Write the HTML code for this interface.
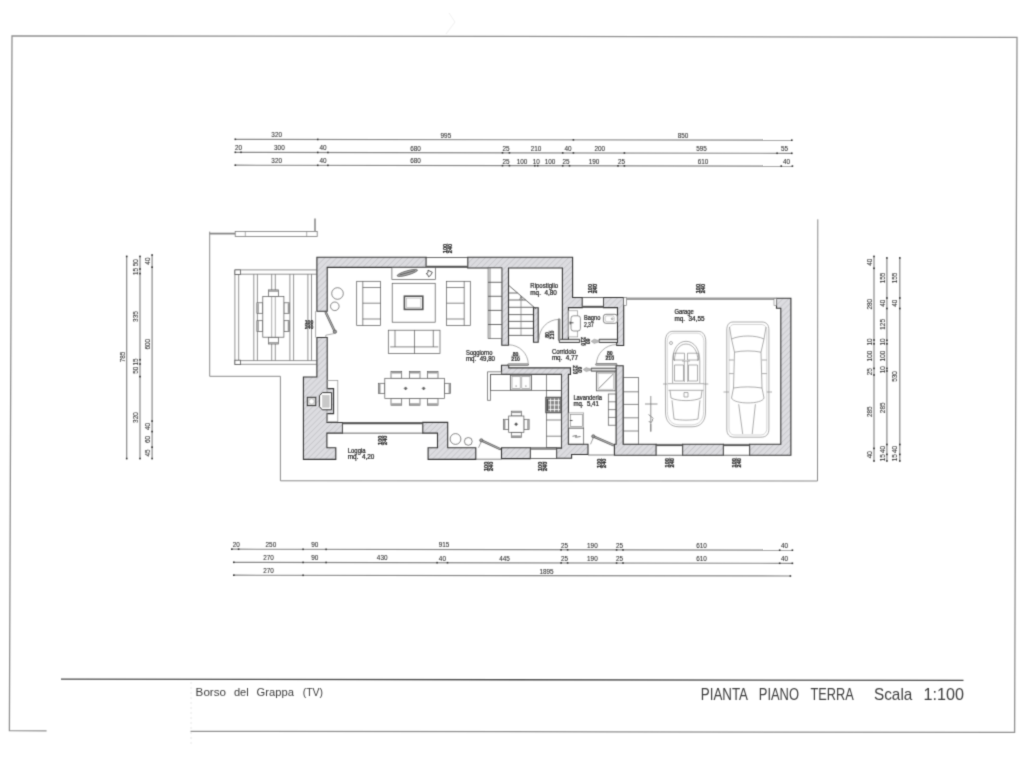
<!DOCTYPE html>
<html><head><meta charset="utf-8"><title>Pianta Piano Terra</title>
<style>
html,body{margin:0;padding:0;background:#fff;}
body{width:1024px;height:768px;overflow:hidden;font-family:"Liberation Sans",sans-serif;}
svg{display:block;will-change:transform;}
.dl{stroke:#888;stroke-width:1.2;fill:none;}
.tk{fill:#333;}
.dt{font-family:"Liberation Sans",sans-serif;font-size:6.4px;fill:#303030;stroke:#303030;stroke-width:0.08px;text-anchor:middle;}
.rl{font-family:"Liberation Sans",sans-serif;font-size:6.4px;fill:#222;stroke:#222;stroke-width:0.22px;}
.ln{stroke:#666;stroke-width:0.8;fill:none;}
.lt{stroke:#888;stroke-width:0.7;fill:none;}
.wall{fill:url(#hatch);stroke:#333;stroke-width:1.1;stroke-linejoin:miter;}
.win{fill:#fff;stroke:#444;stroke-width:0.8;}
.fur{fill:#fff;stroke:#555;stroke-width:0.7;}
.furn{fill:none;stroke:#555;stroke-width:0.7;}
</style></head><body>
<svg width="1024" height="768" viewBox="0 0 1024 768">
<defs>
<filter id="soft" filterUnits="userSpaceOnUse" x="0" y="0" width="1024" height="768" color-interpolation-filters="sRGB"><feConvolveMatrix order="3" kernelMatrix="9 42 9 42 196 42 9 42 9" divisor="400" edgeMode="duplicate"/></filter>
<pattern id="hatch" patternUnits="userSpaceOnUse" width="4.2" height="4.2" patternTransform="rotate(45)">
<rect width="4.2" height="4.2" fill="#dcdce0"/>
<line x1="0" y1="0" x2="0" y2="4.2" stroke="#c6c6ca" stroke-width="1.6"/>
</pattern>
</defs>
<g filter="url(#soft)">
<rect width="1024" height="768" fill="#fff"/>

<polyline points="46.6,730.9 9.4,730.7 12,36.0 516,36.4 1017,37.3 1014.6,732.4 606,731.8 190.5,731.3" fill="none" stroke="#8f8f8f" stroke-width="1.3"/>
<line x1="191" y1="682" x2="191" y2="746" stroke="#e2e2e2" stroke-width="0.8" stroke-dasharray="2,3"/>
<path d="M449,13 L455,22 L446,34" fill="none" stroke="#ececec" stroke-width="0.8"/>
<line x1="61" y1="679.1" x2="963.5" y2="680.4" stroke="#4a4a4a" stroke-width="1.3"/>
<text x="195.6" y="695.5" font-size="11.3" fill="#3c3c3c" textLength="30.5" lengthAdjust="spacingAndGlyphs" style="font-family:'Liberation Sans',sans-serif">Borso</text>
<text x="233.9" y="695.5" font-size="11.3" fill="#3c3c3c" textLength="14.85" lengthAdjust="spacingAndGlyphs" style="font-family:'Liberation Sans',sans-serif">del</text>
<text x="256.6" y="695.5" font-size="11.3" fill="#3c3c3c" textLength="37.4" lengthAdjust="spacingAndGlyphs" style="font-family:'Liberation Sans',sans-serif">Grappa</text>
<text x="302.7" y="695.5" font-size="11.3" fill="#3c3c3c" textLength="20.3" lengthAdjust="spacingAndGlyphs" style="font-family:'Liberation Sans',sans-serif">(TV)</text>
<text x="700.8" y="699.6" font-size="15.7" fill="#3c3c3c" textLength="47.2" lengthAdjust="spacingAndGlyphs" style="font-family:'Liberation Sans',sans-serif">PIANTA</text>
<text x="758.8" y="699.6" font-size="15.7" fill="#3c3c3c" textLength="40.2" lengthAdjust="spacingAndGlyphs" style="font-family:'Liberation Sans',sans-serif">PIANO</text>
<text x="810.4" y="699.6" font-size="15.7" fill="#3c3c3c" textLength="43.3" lengthAdjust="spacingAndGlyphs" style="font-family:'Liberation Sans',sans-serif">TERRA</text>
<text x="874" y="699.6" font-size="15.7" fill="#3c3c3c" textLength="38.3" lengthAdjust="spacingAndGlyphs" style="font-family:'Liberation Sans',sans-serif">Scala</text>
<text x="923.6" y="699.6" font-size="15.7" fill="#3c3c3c" textLength="40.5" lengthAdjust="spacingAndGlyphs" style="font-family:'Liberation Sans',sans-serif">1:100</text>
<line x1="235.3" y1="139.3" x2="791.8" y2="140.2" class="dl"/>
<rect x="234.5" y="138.5" width="1.6" height="1.6" class="tk"/>
<rect x="316.95" y="138.63" width="1.6" height="1.6" class="tk"/>
<rect x="572.6" y="139.05" width="1.6" height="1.6" class="tk"/>
<rect x="791" y="139.4" width="1.6" height="1.6" class="tk"/>
<text x="276.7" y="137.27" class="dt">320</text>
<text x="445.9" y="137.54" class="dt">995</text>
<text x="683" y="137.92" class="dt">850</text>
<line x1="235.3" y1="152.3" x2="791.8" y2="153.3" class="dl"/>
<rect x="234.5" y="151.5" width="1.6" height="1.6" class="tk"/>
<rect x="240.2" y="151.51" width="1.6" height="1.6" class="tk"/>
<rect x="316.95" y="151.65" width="1.6" height="1.6" class="tk"/>
<rect x="327.1" y="151.67" width="1.6" height="1.6" class="tk"/>
<rect x="501.7" y="151.98" width="1.6" height="1.6" class="tk"/>
<rect x="508.6" y="151.99" width="1.6" height="1.6" class="tk"/>
<rect x="561.9" y="152.09" width="1.6" height="1.6" class="tk"/>
<rect x="572.6" y="152.11" width="1.6" height="1.6" class="tk"/>
<rect x="623.6" y="152.2" width="1.6" height="1.6" class="tk"/>
<rect x="776.3" y="152.47" width="1.6" height="1.6" class="tk"/>
<rect x="791" y="152.5" width="1.6" height="1.6" class="tk"/>
<text x="238.5" y="150.21" class="dt">20</text>
<text x="279.4" y="150.28" class="dt">300</text>
<text x="323" y="150.36" class="dt">40</text>
<text x="415.6" y="150.52" class="dt">680</text>
<text x="506" y="150.69" class="dt">25</text>
<text x="536" y="150.74" class="dt">210</text>
<text x="568" y="150.8" class="dt">40</text>
<text x="599.8" y="150.85" class="dt">200</text>
<text x="701.6" y="151.04" class="dt">595</text>
<text x="784.6" y="151.19" class="dt">55</text>
<line x1="235.3" y1="165.2" x2="792.4" y2="166.1" class="dl"/>
<rect x="234.5" y="164.4" width="1.6" height="1.6" class="tk"/>
<rect x="316.95" y="164.53" width="1.6" height="1.6" class="tk"/>
<rect x="327.1" y="164.55" width="1.6" height="1.6" class="tk"/>
<rect x="501.7" y="164.83" width="1.6" height="1.6" class="tk"/>
<rect x="508.6" y="164.84" width="1.6" height="1.6" class="tk"/>
<rect x="534" y="164.88" width="1.6" height="1.6" class="tk"/>
<rect x="536.9" y="164.89" width="1.6" height="1.6" class="tk"/>
<rect x="561.9" y="164.93" width="1.6" height="1.6" class="tk"/>
<rect x="568.7" y="164.94" width="1.6" height="1.6" class="tk"/>
<rect x="617.2" y="165.02" width="1.6" height="1.6" class="tk"/>
<rect x="623.6" y="165.03" width="1.6" height="1.6" class="tk"/>
<rect x="780.45" y="165.28" width="1.6" height="1.6" class="tk"/>
<rect x="791.6" y="165.3" width="1.6" height="1.6" class="tk"/>
<text x="276.7" y="163.17" class="dt">320</text>
<text x="323" y="163.24" class="dt">40</text>
<text x="415.6" y="163.39" class="dt">680</text>
<text x="506" y="163.54" class="dt">25</text>
<text x="522" y="163.56" class="dt">100</text>
<text x="536.2" y="163.59" class="dt">10</text>
<text x="550" y="163.61" class="dt">100</text>
<text x="566" y="163.63" class="dt">25</text>
<text x="594" y="163.68" class="dt">190</text>
<text x="621.5" y="163.72" class="dt">25</text>
<text x="703" y="163.86" class="dt">610</text>
<text x="786.5" y="163.99" class="dt">40</text>
<line x1="231.8" y1="549.2" x2="792.4" y2="550.2" class="dl"/>
<rect x="231" y="548.4" width="1.6" height="1.6" class="tk"/>
<rect x="237.8" y="548.41" width="1.6" height="1.6" class="tk"/>
<rect x="302.3" y="548.53" width="1.6" height="1.6" class="tk"/>
<rect x="325.3" y="548.57" width="1.6" height="1.6" class="tk"/>
<rect x="560.3" y="548.99" width="1.6" height="1.6" class="tk"/>
<rect x="566.8" y="549" width="1.6" height="1.6" class="tk"/>
<rect x="615.8" y="549.09" width="1.6" height="1.6" class="tk"/>
<rect x="622.2" y="549.1" width="1.6" height="1.6" class="tk"/>
<rect x="778.9" y="549.38" width="1.6" height="1.6" class="tk"/>
<rect x="791.6" y="549.4" width="1.6" height="1.6" class="tk"/>
<text x="236.2" y="547.11" class="dt">20</text>
<text x="270.9" y="547.17" class="dt">250</text>
<text x="314.8" y="547.25" class="dt">90</text>
<text x="444" y="547.48" class="dt">915</text>
<text x="564.6" y="547.69" class="dt">25</text>
<text x="592.4" y="547.74" class="dt">190</text>
<text x="619.5" y="547.79" class="dt">25</text>
<text x="701.6" y="547.94" class="dt">610</text>
<text x="784.6" y="548.09" class="dt">40</text>
<line x1="233.8" y1="562.3" x2="792.4" y2="563.3" class="dl"/>
<rect x="233" y="561.5" width="1.6" height="1.6" class="tk"/>
<rect x="302.3" y="561.62" width="1.6" height="1.6" class="tk"/>
<rect x="325.3" y="561.67" width="1.6" height="1.6" class="tk"/>
<rect x="436.3" y="561.86" width="1.6" height="1.6" class="tk"/>
<rect x="446.7" y="561.88" width="1.6" height="1.6" class="tk"/>
<rect x="560.3" y="562.09" width="1.6" height="1.6" class="tk"/>
<rect x="566.8" y="562.1" width="1.6" height="1.6" class="tk"/>
<rect x="615.8" y="562.19" width="1.6" height="1.6" class="tk"/>
<rect x="622.2" y="562.2" width="1.6" height="1.6" class="tk"/>
<rect x="778.9" y="562.48" width="1.6" height="1.6" class="tk"/>
<rect x="791.6" y="562.5" width="1.6" height="1.6" class="tk"/>
<text x="268.5" y="560.26" class="dt">270</text>
<text x="314.8" y="560.35" class="dt">90</text>
<text x="382.2" y="560.47" class="dt">430</text>
<text x="442.4" y="560.57" class="dt">40</text>
<text x="504.5" y="560.68" class="dt">445</text>
<text x="564.6" y="560.79" class="dt">25</text>
<text x="592.4" y="560.84" class="dt">190</text>
<text x="619.5" y="560.89" class="dt">25</text>
<text x="701.6" y="561.04" class="dt">610</text>
<text x="784.6" y="561.19" class="dt">40</text>
<line x1="233.8" y1="575.2" x2="790.4" y2="576" class="dl"/>
<rect x="233" y="574.4" width="1.6" height="1.6" class="tk"/>
<rect x="302.3" y="574.5" width="1.6" height="1.6" class="tk"/>
<rect x="789.6" y="575.2" width="1.6" height="1.6" class="tk"/>
<text x="268.5" y="573.15" class="dt">270</text>
<text x="546.5" y="573.55" class="dt">1895</text>
<line x1="126.7" y1="256.4" x2="126.7" y2="458.6" class="dl"/>
<rect x="125.9" y="255.6" width="1.6" height="1.6" class="tk"/>
<rect x="125.9" y="457.8" width="1.6" height="1.6" class="tk"/>
<text transform="translate(124.6,357) rotate(-90)" x="0" y="0" class="dt">785</text>
<line x1="140" y1="256.4" x2="140" y2="458.6" class="dl"/>
<rect x="139.2" y="255.6" width="1.6" height="1.6" class="tk"/>
<rect x="139.2" y="268.2" width="1.6" height="1.6" class="tk"/>
<rect x="139.2" y="272.8" width="1.6" height="1.6" class="tk"/>
<rect x="139.2" y="358.9" width="1.6" height="1.6" class="tk"/>
<rect x="139.2" y="363.2" width="1.6" height="1.6" class="tk"/>
<rect x="139.2" y="375.8" width="1.6" height="1.6" class="tk"/>
<rect x="139.2" y="457.8" width="1.6" height="1.6" class="tk"/>
<text transform="translate(137.9,262.7) rotate(-90)" x="0" y="0" class="dt">50</text>
<text transform="translate(137.9,271.5) rotate(-90)" x="0" y="0" class="dt">15</text>
<text transform="translate(137.9,316.6) rotate(-90)" x="0" y="0" class="dt">335</text>
<text transform="translate(137.9,361.9) rotate(-90)" x="0" y="0" class="dt">15</text>
<text transform="translate(137.9,370.3) rotate(-90)" x="0" y="0" class="dt">50</text>
<text transform="translate(137.9,417.6) rotate(-90)" x="0" y="0" class="dt">320</text>
<line x1="152.1" y1="255" x2="152.1" y2="458.6" class="dl"/>
<rect x="151.3" y="254.2" width="1.6" height="1.6" class="tk"/>
<rect x="151.3" y="266.4" width="1.6" height="1.6" class="tk"/>
<rect x="151.3" y="420.3" width="1.6" height="1.6" class="tk"/>
<rect x="151.3" y="430.8" width="1.6" height="1.6" class="tk"/>
<rect x="151.3" y="446.4" width="1.6" height="1.6" class="tk"/>
<rect x="151.3" y="457.8" width="1.6" height="1.6" class="tk"/>
<text transform="translate(150,261.1) rotate(-90)" x="0" y="0" class="dt">40</text>
<text transform="translate(150,344.2) rotate(-90)" x="0" y="0" class="dt">600</text>
<text transform="translate(150,426.4) rotate(-90)" x="0" y="0" class="dt">40</text>
<text transform="translate(150,439.4) rotate(-90)" x="0" y="0" class="dt">60</text>
<text transform="translate(150,452.9) rotate(-90)" x="0" y="0" class="dt">45</text>
<line x1="874" y1="256.4" x2="874" y2="461" class="dl"/>
<rect x="873.2" y="255.6" width="1.6" height="1.6" class="tk"/>
<rect x="873.2" y="267.5" width="1.6" height="1.6" class="tk"/>
<rect x="873.2" y="339.2" width="1.6" height="1.6" class="tk"/>
<rect x="873.2" y="343" width="1.6" height="1.6" class="tk"/>
<rect x="873.2" y="367.6" width="1.6" height="1.6" class="tk"/>
<rect x="873.2" y="374.2" width="1.6" height="1.6" class="tk"/>
<rect x="873.2" y="447.6" width="1.6" height="1.6" class="tk"/>
<rect x="873.2" y="460.2" width="1.6" height="1.6" class="tk"/>
<text transform="translate(871.9,262.3) rotate(-90)" x="0" y="0" class="dt">40</text>
<text transform="translate(871.9,304.2) rotate(-90)" x="0" y="0" class="dt">280</text>
<text transform="translate(871.9,341.9) rotate(-90)" x="0" y="0" class="dt">10</text>
<text transform="translate(871.9,356.1) rotate(-90)" x="0" y="0" class="dt">100</text>
<text transform="translate(871.9,371.7) rotate(-90)" x="0" y="0" class="dt">25</text>
<text transform="translate(871.9,411.7) rotate(-90)" x="0" y="0" class="dt">285</text>
<text transform="translate(871.9,454.7) rotate(-90)" x="0" y="0" class="dt">40</text>
<line x1="886.9" y1="257.9" x2="886.9" y2="461" class="dl"/>
<rect x="886.1" y="257.1" width="1.6" height="1.6" class="tk"/>
<rect x="886.1" y="297.2" width="1.6" height="1.6" class="tk"/>
<rect x="886.1" y="307.7" width="1.6" height="1.6" class="tk"/>
<rect x="886.1" y="339.5" width="1.6" height="1.6" class="tk"/>
<rect x="886.1" y="343" width="1.6" height="1.6" class="tk"/>
<rect x="886.1" y="367.6" width="1.6" height="1.6" class="tk"/>
<rect x="886.1" y="370.2" width="1.6" height="1.6" class="tk"/>
<rect x="886.1" y="443.7" width="1.6" height="1.6" class="tk"/>
<rect x="886.1" y="453.6" width="1.6" height="1.6" class="tk"/>
<rect x="886.1" y="460.2" width="1.6" height="1.6" class="tk"/>
<text transform="translate(884.8,278) rotate(-90)" x="0" y="0" class="dt">155</text>
<text transform="translate(884.8,303.2) rotate(-90)" x="0" y="0" class="dt">40</text>
<text transform="translate(884.8,324.4) rotate(-90)" x="0" y="0" class="dt">125</text>
<text transform="translate(884.8,342) rotate(-90)" x="0" y="0" class="dt">10</text>
<text transform="translate(884.8,356.1) rotate(-90)" x="0" y="0" class="dt">100</text>
<text transform="translate(884.8,369.7) rotate(-90)" x="0" y="0" class="dt">10</text>
<text transform="translate(884.8,407.8) rotate(-90)" x="0" y="0" class="dt">285</text>
<text transform="translate(884.8,449.5) rotate(-90)" x="0" y="0" class="dt">40</text>
<text transform="translate(884.8,457.7) rotate(-90)" x="0" y="0" class="dt">15</text>
<line x1="899.8" y1="257.9" x2="899.8" y2="461" class="dl"/>
<rect x="899" y="257.1" width="1.6" height="1.6" class="tk"/>
<rect x="899" y="297.2" width="1.6" height="1.6" class="tk"/>
<rect x="899" y="307.7" width="1.6" height="1.6" class="tk"/>
<rect x="899" y="443.7" width="1.6" height="1.6" class="tk"/>
<rect x="899" y="453.6" width="1.6" height="1.6" class="tk"/>
<rect x="899" y="460.2" width="1.6" height="1.6" class="tk"/>
<text transform="translate(897.4,278) rotate(-90)" x="0" y="0" class="dt">155</text>
<text transform="translate(897.4,303.2) rotate(-90)" x="0" y="0" class="dt">40</text>
<text transform="translate(897.4,376.5) rotate(-90)" x="0" y="0" class="dt">530</text>
<text transform="translate(897.4,449.5) rotate(-90)" x="0" y="0" class="dt">40</text>
<text transform="translate(897.4,457.7) rotate(-90)" x="0" y="0" class="dt">15</text>
<style>.ws{font-family:"Liberation Sans",sans-serif;font-size:5.2px;fill:#222;stroke:#222;stroke-width:0.15px;text-anchor:middle;font-weight:bold}.ws2{font-family:"Liberation Sans",sans-serif;font-size:5.6px;fill:#222;stroke:#222;stroke-width:0.2px;text-anchor:middle;font-weight:bold}</style>
<polyline points="209.7,231.6 209.7,376.3 280.4,376.3 280.4,480.8 817.5,481 817.8,219.3" class="lt" style="stroke:#8a8a8a;stroke-width:1" />
<line x1="209.7" y1="233.6" x2="235.2" y2="233.6" class="ln" style="stroke:#888;stroke-width:1.8" />
<rect x="235.2" y="231.4" width="82" height="5.2" class="fur" style="stroke:#777;stroke-width:0.8" />
<line x1="245.3" y1="231.4" x2="245.3" y2="236.6" class="lt" />
<line x1="306.7" y1="231.4" x2="306.7" y2="236.6" class="lt" />
<line x1="315" y1="218.6" x2="315" y2="231.4" class="ln" style="stroke:#999;stroke-width:1.8" />
<line x1="234.9" y1="269.9" x2="316.5" y2="269.9" class="lt" style="stroke:#777;stroke-width:0.8" />
<line x1="234.9" y1="274.2" x2="316.5" y2="274.2" class="lt" style="stroke:#777;stroke-width:0.8" />
<line x1="234.9" y1="360.6" x2="316.5" y2="360.6" class="lt" style="stroke:#777;stroke-width:0.8" />
<line x1="234.9" y1="364.3" x2="316.5" y2="364.3" class="lt" style="stroke:#777;stroke-width:0.8" />
<line x1="234.9" y1="269.9" x2="234.9" y2="364.3" class="lt" style="stroke:#777;stroke-width:0.8" />
<line x1="238.7" y1="269.9" x2="238.7" y2="364.3" class="lt" style="stroke:#777;stroke-width:0.8" />
<line x1="253.8" y1="274.2" x2="253.8" y2="360.6" class="lt" style="stroke:#777;stroke-width:0.8" />
<line x1="257.4" y1="274.2" x2="257.4" y2="360.6" class="lt" style="stroke:#777;stroke-width:0.8" />
<line x1="271.7" y1="274.2" x2="271.7" y2="360.6" class="lt" style="stroke:#777;stroke-width:0.8" />
<line x1="275.3" y1="274.2" x2="275.3" y2="360.6" class="lt" style="stroke:#777;stroke-width:0.8" />
<line x1="289.9" y1="274.2" x2="289.9" y2="360.6" class="lt" style="stroke:#777;stroke-width:0.8" />
<line x1="293.6" y1="274.2" x2="293.6" y2="360.6" class="lt" style="stroke:#777;stroke-width:0.8" />
<line x1="307.9" y1="274.2" x2="307.9" y2="360.6" class="lt" style="stroke:#777;stroke-width:0.8" />
<line x1="311.5" y1="274.2" x2="311.5" y2="360.6" class="lt" style="stroke:#777;stroke-width:0.8" />
<rect x="234.9" y="269.9" width="5.5" height="4.5" class="fur" style="stroke:#555;stroke-width:0.8" />
<rect x="234.9" y="360.2" width="5.5" height="4.4" class="fur" style="stroke:#555;stroke-width:0.8" />
<rect x="268.5" y="289.9" width="10.1" height="6.5" class="fur" style="fill:#fff" />
<line x1="268.9" y1="291" x2="278.2" y2="291" class="furn" style="stroke:#999;stroke-width:1.6" />
<rect x="268.5" y="337.2" width="10.1" height="6.8" class="fur" style="fill:#fff" />
<line x1="268.9" y1="342.9" x2="278.2" y2="342.9" class="furn" style="stroke:#999;stroke-width:1.6" />
<rect x="256.9" y="302.8" width="5.9" height="10.5" class="fur" style="fill:#fff" />
<line x1="258" y1="303.2" x2="258" y2="312.9" class="furn" style="stroke:#999;stroke-width:1.6" />
<rect x="256.9" y="320.7" width="5.9" height="10.8" class="fur" style="fill:#fff" />
<line x1="258" y1="321.1" x2="258" y2="331.1" class="furn" style="stroke:#999;stroke-width:1.6" />
<rect x="283.9" y="302.8" width="5.7" height="10.5" class="fur" style="fill:#fff" />
<line x1="288.5" y1="303.2" x2="288.5" y2="312.9" class="furn" style="stroke:#999;stroke-width:1.6" />
<rect x="283.9" y="320.7" width="5.7" height="10.8" class="fur" style="fill:#fff" />
<line x1="288.5" y1="321.1" x2="288.5" y2="331.1" class="furn" style="stroke:#999;stroke-width:1.6" />
<rect x="262.8" y="296.4" width="21.1" height="40.8" class="fur" />
<line x1="271.7" y1="296.4" x2="271.7" y2="337.2" class="lt" />
<line x1="275.3" y1="296.4" x2="275.3" y2="337.2" class="lt" />
<polygon points="316.9,257.2 426.2,257.2 426.2,267.4 327.2,267.4 327.2,311.2 316.9,311.2" class="wall" />
<polygon points="467.7,257.3 572.6,257.3 572.6,297.5 582.3,297.5 582.3,307.6 568.4,307.6 568.4,339.8 562.4,339.8 562.4,268 508.5,268 508.5,345.3 501.8,345.3 501.8,268 467.7,268" class="wall" />
<polygon points="603.4,297.5 623.7,297.5 623.7,345.5 616.7,345.5 616.7,342.4 617.5,342.4 617.5,307.6 603.4,307.6" class="wall" />
<polygon points="533.5,307.8 538.2,307.8 538.2,342.2 533.5,342.2" class="wall" />
<polygon points="316.9,337.5 327.2,337.5 327.2,388.6 333.6,388.6 333.6,413.6 327,413.6 327,422.5 342.5,422.5 342.5,433.1 326.9,433.1 326.9,447.7 335.8,447.7 335.8,459.4 303.4,459.4 303.4,377 316.9,377" class="wall" />
<polygon points="422.7,422.4 447.7,422.4 447.7,447.7 475.8,447.7 475.8,459.4 428.1,459.4 428.1,447.7 437.5,447.7 437.5,433.1 422.7,433.1" class="wall" />
<polygon points="501.5,447.8 530.4,447.8 530.4,458.6 501.5,458.6" class="wall" />
<polygon points="501.5,365.3 508.7,365.3 508.7,367.9 570.5,367.9 570.5,374.4 568.4,374.4 568.4,444.3 588,444.3 588,454.5 571.6,454.5 571.6,458.2 556.6,458.2 556.6,448.3 561.5,448.3 561.5,374.4 501.5,374.4" class="wall" />
<polygon points="591.1,368.2 617.1,368.2 617.1,371.1 591.1,371.1" class="wall" style="fill:#e4e4e4;stroke-width:0.9" />
<polygon points="559.3,339.3 579.7,339.3 579.7,342.5 559.3,342.5" class="wall" style="fill:#e4e4e4;stroke-width:0.9" />
<polygon points="599.1,339.3 617.5,339.3 617.5,342.5 599.1,342.5" class="wall" style="fill:#e4e4e4;stroke-width:0.9" />
<polygon points="616.1,365.8 623.2,365.8 623.2,444.3 656.2,444.3 656.2,455.2 614.4,455.2 614.4,444.3 616.1,444.3" class="wall" />
<polygon points="682.6,444.3 723.4,444.3 723.4,455.2 682.6,455.2" class="wall" />
<polygon points="749.6,444.3 780.8,444.3 780.8,308.3 776.5,308.3 776.5,298.3 790.9,298.3 790.9,455.2 749.6,455.2" class="wall" />
<rect x="426.2" y="257.4" width="41.5" height="10.2" class="win" />
<line x1="426.2" y1="266.4" x2="467.7" y2="266.4" class="ln" style="stroke:#555;stroke-width:1.2" />
<rect x="582.3" y="297.5" width="21.1" height="10.1" class="win" />
<line x1="582.3" y1="306.4" x2="603.4" y2="306.4" class="ln" style="stroke:#555;stroke-width:1.2" />
<rect x="342.5" y="422.5" width="80.2" height="10.6" class="win" />
<line x1="342.5" y1="423.7" x2="422.7" y2="423.7" class="ln" style="stroke:#555;stroke-width:1.2" />
<rect x="530.4" y="447.8" width="26.2" height="10.8" class="win" />
<line x1="530.4" y1="449" x2="556.6" y2="449" class="ln" style="stroke:#555;stroke-width:1.2" />
<rect x="656.2" y="444.3" width="26.4" height="10.9" class="win" />
<line x1="656.2" y1="445.5" x2="682.6" y2="445.5" class="ln" style="stroke:#555;stroke-width:1.2" />
<rect x="723.4" y="444.3" width="26.2" height="10.9" class="win" />
<line x1="723.4" y1="445.5" x2="749.6" y2="445.5" class="ln" style="stroke:#555;stroke-width:1.2" />
<line x1="626.5" y1="298.7" x2="776.5" y2="298.7" class="ln" style="stroke:#9c9c9c;stroke-width:2.4" />
<rect x="623.7" y="297.5" width="2.8" height="7.8" class="fur" style="stroke:#666;stroke-width:0.6" />
<rect x="774" y="298.5" width="2.5" height="7.1" class="fur" style="stroke:#777;stroke-width:0.6" />
<line x1="475.8" y1="459.2" x2="501.5" y2="459.2" class="lt" style="stroke:#666;stroke-width:0.8" />
<line x1="588" y1="455" x2="614.4" y2="455" class="lt" style="stroke:#666;stroke-width:0.8" />
<line x1="315.6" y1="311.2" x2="315.6" y2="337.5" class="lt" />
<rect x="327" y="380.5" width="10.8" height="41.2" class="furn" style="stroke:#9a9a9a;stroke-width:0.8" />
<path d="M322.3,392.6 L331.6,392.6 L331.6,409.8 L322.3,409.8 L319.4,406.6 L319.4,395.8 Z" fill="#fff" stroke="#333" stroke-width="1"/>
<rect x="322.6" y="395.4" width="6.6" height="11.8" class="fur" style="fill:#c8c8c8;stroke:#bbb;stroke-width:0.5" />
<rect x="307.3" y="397.3" width="8.5" height="8.3" class="fur" style="stroke:#333;stroke-width:1;fill:#d8d8d8" />
<circle cx="311.55" cy="401.45" r="2.6" class="fur" style="stroke:#999;stroke-width:0.5;fill:#fff" />
<line x1="325.8" y1="312.6" x2="334.9" y2="331.7" class="ln" style="stroke:#5a5a5a;stroke-width:2.4;stroke-linecap:round" />
<line x1="325.8" y1="312.6" x2="334.9" y2="331.7" class="ln" style="stroke:#a8a8a8;stroke-width:1.2000000000000002;stroke-linecap:round" />
<circle cx="334.9" cy="331.7" r="1.7" class="fur" style="stroke:#555;stroke-width:0.7;fill:#999" />
<polyline points="334.9,333.4 325.8,335.2 325.8,337.5" class="lt" />
<line x1="481.3" y1="440.3" x2="500" y2="449" class="ln" style="stroke:#5a5a5a;stroke-width:2.4;stroke-linecap:round" />
<line x1="481.3" y1="440.3" x2="500" y2="449" class="ln" style="stroke:#a8a8a8;stroke-width:1.2000000000000002;stroke-linecap:round" />
<circle cx="481.3" cy="440.3" r="1.6" class="fur" style="stroke:#555;stroke-width:0.7;fill:#999" />
<polyline points="481.3,441.6 478.5,447.7" class="lt" style="stroke:#777" />
<line x1="593.3" y1="436.3" x2="613.4" y2="445.1" class="ln" style="stroke:#5a5a5a;stroke-width:2.4;stroke-linecap:round" />
<line x1="593.3" y1="436.3" x2="613.4" y2="445.1" class="ln" style="stroke:#a8a8a8;stroke-width:1.2000000000000002;stroke-linecap:round" />
<circle cx="593.3" cy="436.3" r="1.6" class="fur" style="stroke:#555;stroke-width:0.7;fill:#999" />
<polyline points="593.3,437.6 590.5,444.3" class="lt" style="stroke:#777" />
<line x1="508.7" y1="364.6" x2="527.6" y2="364.6" class="ln" style="stroke:#5a5a5a;stroke-width:2.4;stroke-linecap:round" />
<line x1="508.7" y1="364.6" x2="527.6" y2="364.6" class="ln" style="stroke:#a8a8a8;stroke-width:1.2000000000000002;stroke-linecap:round" />
<path d="M508.7,344.8 A19.8,19.8 0 0 1 528.3,363.8" class="lt"/>
<line x1="596.6" y1="364.4" x2="616.1" y2="364.4" class="ln" style="stroke:#5a5a5a;stroke-width:2.4;stroke-linecap:round" />
<line x1="596.6" y1="364.4" x2="616.1" y2="364.4" class="ln" style="stroke:#a8a8a8;stroke-width:1.2000000000000002;stroke-linecap:round" />
<path d="M596.4,364.0 A20,20 0 0 1 616.2,344.6" class="lt"/>
<line x1="559.1" y1="319.6" x2="559.1" y2="339.6" class="ln" style="stroke:#5a5a5a;stroke-width:2.4;stroke-linecap:round" />
<line x1="559.1" y1="319.6" x2="559.1" y2="339.6" class="ln" style="stroke:#a8a8a8;stroke-width:1.2000000000000002;stroke-linecap:round" />
<path d="M539.0,339.6 A20,20 0 0 1 558.6,319.4" class="lt"/>
<g transform="rotate(-90 447.3 248.5)">
<text x="447.3" y="247.9" class="ws2">100</text>
<line x1="442.3" y1="248.5" x2="452.3" y2="248.5" stroke="#444" stroke-width="0.8"/>
<text x="447.3" y="252.9" class="ws2">240</text>
</g>
<g>
<text x="309" y="323.8" class="ws">100</text>
<line x1="304.8" y1="324.3" x2="313.2" y2="324.3" stroke="#333" stroke-width="0.7"/>
<text x="309" y="328.7" class="ws">240</text>
</g>
<g transform="rotate(-90 593.1 288.6)">
<text x="593.1" y="288" class="ws2">100</text>
<line x1="588.1" y1="288.6" x2="598.1" y2="288.6" stroke="#444" stroke-width="0.8"/>
<text x="593.1" y="293" class="ws2">240</text>
</g>
<g transform="rotate(-90 700.2 288.6)">
<text x="700.2" y="288" class="ws2">100</text>
<line x1="695.2" y1="288.6" x2="705.2" y2="288.6" stroke="#444" stroke-width="0.8"/>
<text x="700.2" y="293" class="ws2">240</text>
</g>
<g transform="rotate(-90 382.7 440.3)">
<text x="382.7" y="439.7" class="ws2">100</text>
<line x1="377.7" y1="440.3" x2="387.7" y2="440.3" stroke="#444" stroke-width="0.8"/>
<text x="382.7" y="444.7" class="ws2">240</text>
</g>
<g transform="rotate(-90 488.3 466.4)">
<text x="488.3" y="465.8" class="ws2">100</text>
<line x1="483.3" y1="466.4" x2="493.3" y2="466.4" stroke="#444" stroke-width="0.8"/>
<text x="488.3" y="470.8" class="ws2">240</text>
</g>
<g transform="rotate(-90 543 466.4)">
<text x="543" y="465.8" class="ws2">100</text>
<line x1="538" y1="466.4" x2="548" y2="466.4" stroke="#444" stroke-width="0.8"/>
<text x="543" y="470.8" class="ws2">240</text>
</g>
<g transform="rotate(-90 601.5 463.3)">
<text x="601.5" y="462.7" class="ws2">100</text>
<line x1="596.5" y1="463.3" x2="606.5" y2="463.3" stroke="#444" stroke-width="0.8"/>
<text x="601.5" y="467.7" class="ws2">240</text>
</g>
<g transform="rotate(-90 669.7 462.7)">
<text x="669.7" y="462.1" class="ws2">100</text>
<line x1="664.7" y1="462.7" x2="674.7" y2="462.7" stroke="#444" stroke-width="0.8"/>
<text x="669.7" y="467.1" class="ws2">240</text>
</g>
<g transform="rotate(-90 736.3 462.7)">
<text x="736.3" y="462.1" class="ws2">100</text>
<line x1="731.3" y1="462.7" x2="741.3" y2="462.7" stroke="#444" stroke-width="0.8"/>
<text x="736.3" y="467.1" class="ws2">240</text>
</g>
<g>
<text x="515.6" y="355.7" class="ws">80</text>
<line x1="511.4" y1="356.2" x2="519.8" y2="356.2" stroke="#333" stroke-width="0.7"/>
<text x="515.6" y="360.6" class="ws">210</text>
</g>
<g>
<text x="609.8" y="355.3" class="ws">80</text>
<line x1="605.6" y1="355.8" x2="614" y2="355.8" stroke="#333" stroke-width="0.7"/>
<text x="609.8" y="360.2" class="ws">210</text>
</g>
<g transform="rotate(-90 549.2 334.9)">
<text x="549.2" y="334.4" class="ws">80</text>
<line x1="545" y1="334.9" x2="553.4" y2="334.9" stroke="#333" stroke-width="0.7"/>
<text x="549.2" y="339.3" class="ws">210</text>
</g>
<g transform="rotate(90 585.5 341.3)">
<text x="585.5" y="340.8" class="ws">60</text>
<line x1="581.3" y1="341.3" x2="589.7" y2="341.3" stroke="#333" stroke-width="0.7"/>
<text x="585.5" y="345.7" class="ws">210</text>
</g>
<polygon points="591.1,341.3 594.2,339.2 598.7,340.6 598.7,342 594.2,343.4" class="wall" style="fill:#bbb;stroke:#999;stroke-width:0.6" />
<g transform="rotate(90 577.6 369.7)">
<text x="577.6" y="369.2" class="ws">60</text>
<line x1="573.4" y1="369.7" x2="581.8" y2="369.7" stroke="#333" stroke-width="0.7"/>
<text x="577.6" y="374.1" class="ws">210</text>
</g>
<polygon points="583.2,369.6 586.2,367.6 590.3,369 590.3,370.3 586.2,371.6" class="wall" style="fill:#bbb;stroke:#999;stroke-width:0.6" />
<circle cx="337.5" cy="293.5" r="5.8" class="furn" />
<circle cx="334.8" cy="306.3" r="4.3" class="furn" />
<rect x="391.9" y="267.6" width="43.7" height="11.8" class="fur" style="stroke:#555;stroke-width:0.7" />
<ellipse cx="407.3" cy="272.9" rx="10.6" ry="2.1" transform="rotate(-16 407.3 272.9)" fill="#aaa" stroke="#555" stroke-width="0.7"/>
<line x1="399.5" y1="275" x2="415" y2="270.6" stroke="#444" stroke-width="0.7"/>
<path d="M428,270.2 L432.3,272.3 L430.5,275.5 L428.6,276.8 L427.6,274.5 L426.2,273.7 L428,272.6 Z" fill="none" stroke="#333" stroke-width="0.8"/>
<rect x="356.7" y="281.3" width="23.9" height="44.1" class="fur" />
<line x1="362.8" y1="281.3" x2="362.8" y2="325.4" class="furn" />
<line x1="362.8" y1="287.5" x2="380.6" y2="287.5" class="furn" />
<line x1="362.8" y1="319" x2="380.6" y2="319" class="furn" />
<line x1="362.8" y1="303.2" x2="380.6" y2="303.2" class="furn" />
<rect x="392.2" y="283.3" width="43" height="38.9" class="fur" />
<rect x="404.4" y="296.2" width="18.4" height="13.2" class="fur" style="stroke:#555;stroke-width:1.6" />
<rect x="406.3" y="298.1" width="14.6" height="9.4" class="fur" style="stroke:#999;stroke-width:0.5" />
<rect x="446.6" y="281.3" width="23.7" height="44.1" class="fur" />
<line x1="464.2" y1="281.3" x2="464.2" y2="325.4" class="furn" />
<line x1="446.6" y1="287.5" x2="464.2" y2="287.5" class="furn" />
<line x1="446.6" y1="319" x2="464.2" y2="319" class="furn" />
<line x1="446.6" y1="303.2" x2="464.2" y2="303.2" class="furn" />
<rect x="388.3" y="330.2" width="51.7" height="23.4" class="fur" />
<line x1="395" y1="330.2" x2="395" y2="346.9" class="furn" />
<line x1="433.3" y1="330.2" x2="433.3" y2="346.9" class="furn" />
<line x1="390.2" y1="346.9" x2="438.3" y2="346.9" class="furn" />
<line x1="414.5" y1="330.2" x2="414.5" y2="353.6" class="furn" />
<rect x="391" y="371.6" width="10.7" height="6.7" class="fur" style="fill:#fff" />
<line x1="391.4" y1="372.7" x2="401.3" y2="372.7" class="furn" style="stroke:#999;stroke-width:1.6" />
<rect x="391" y="398.6" width="10.7" height="6.6" class="fur" style="fill:#fff" />
<line x1="391.4" y1="404.1" x2="401.3" y2="404.1" class="furn" style="stroke:#999;stroke-width:1.6" />
<rect x="409.4" y="371.6" width="10.6" height="6.7" class="fur" style="fill:#fff" />
<line x1="409.8" y1="372.7" x2="419.6" y2="372.7" class="furn" style="stroke:#999;stroke-width:1.6" />
<rect x="409.4" y="398.6" width="10.6" height="6.6" class="fur" style="fill:#fff" />
<line x1="409.8" y1="404.1" x2="419.6" y2="404.1" class="furn" style="stroke:#999;stroke-width:1.6" />
<rect x="427.5" y="371.6" width="10.5" height="6.7" class="fur" style="fill:#fff" />
<line x1="427.9" y1="372.7" x2="437.6" y2="372.7" class="furn" style="stroke:#999;stroke-width:1.6" />
<rect x="427.5" y="398.6" width="10.5" height="6.6" class="fur" style="fill:#fff" />
<line x1="427.9" y1="404.1" x2="437.6" y2="404.1" class="furn" style="stroke:#999;stroke-width:1.6" />
<rect x="378.6" y="383.3" width="6.2" height="10.1" class="fur" style="fill:#fff" />
<line x1="379.7" y1="383.7" x2="379.7" y2="393" class="furn" style="stroke:#999;stroke-width:1.6" />
<rect x="444.5" y="383.3" width="6" height="10.1" class="fur" style="fill:#fff" />
<line x1="449.4" y1="383.7" x2="449.4" y2="393" class="furn" style="stroke:#999;stroke-width:1.6" />
<rect x="384.8" y="378.3" width="59.7" height="20.3" class="fur" />
<path d="M404.1,388.4 L405.6,386.9 L407.1,388.4 L405.6,389.9 Z" fill="#666" stroke="#333" stroke-width="0.5"/>
<path d="M422.1,388.4 L423.6,386.9 L425.1,388.4 L423.6,389.9 Z" fill="#666" stroke="#333" stroke-width="0.5"/>
<rect x="488.1" y="268" width="13.7" height="70.5" class="fur" />
<line x1="490" y1="268" x2="490" y2="338.5" class="furn" />
<line x1="488.1" y1="282.3" x2="501.8" y2="282.3" class="furn" style="stroke:#444;stroke-width:0.8" />
<line x1="488.1" y1="296.3" x2="501.8" y2="296.3" class="furn" style="stroke:#444;stroke-width:0.8" />
<line x1="488.1" y1="310.4" x2="501.8" y2="310.4" class="furn" style="stroke:#444;stroke-width:0.8" />
<line x1="488.1" y1="324.5" x2="501.8" y2="324.5" class="furn" style="stroke:#444;stroke-width:0.8" />
<line x1="508.5" y1="293" x2="517.56" y2="293" class="furn" style="stroke:#444;stroke-width:0.8" />
<line x1="508.5" y1="300" x2="525.69" y2="300" class="furn" style="stroke:#444;stroke-width:0.8" />
<line x1="508.5" y1="307.3" x2="534.17" y2="307.3" class="furn" style="stroke:#444;stroke-width:0.8" />
<line x1="508.5" y1="314.6" x2="533.5" y2="314.6" class="furn" style="stroke:#444;stroke-width:0.8" />
<line x1="508.5" y1="321.4" x2="533.5" y2="321.4" class="furn" style="stroke:#444;stroke-width:0.8" />
<line x1="508.5" y1="328.3" x2="533.5" y2="328.3" class="furn" style="stroke:#444;stroke-width:0.8" />
<line x1="508.5" y1="335.4" x2="533.5" y2="335.4" class="furn" style="stroke:#444;stroke-width:0.8" />
<line x1="508.5" y1="285.2" x2="535.8" y2="308.7" class="furn" style="stroke:#444;stroke-width:0.8" />
<line x1="521" y1="296" x2="521" y2="335.4" class="furn" style="stroke:#777" />
<path d="M519.5,299.8 L521,296.5 L522.5,299.8" fill="none" stroke="#555" stroke-width="0.6"/>
<circle cx="455.5" cy="439" r="5.4" class="furn" />
<circle cx="468.3" cy="441.4" r="3.9" class="furn" />
<path d="M487.5,400.4 L487.5,371.8 L501.5,371.8 L501.5,374.4 L490.5,374.4 L490.5,400.4 Z" class="fur"/>
<rect x="490.5" y="374.4" width="71" height="16" class="fur" style="fill:none" />
<rect x="546.5" y="390.4" width="15" height="57.2" class="fur" style="fill:none" />
<line x1="546.5" y1="374.4" x2="546.5" y2="390.4" class="furn" />
<rect x="510.4" y="375.2" width="21.1" height="14.8" class="fur" style="stroke:#666;stroke-width:0.9" />
<rect x="512" y="376.6" width="8.2" height="12" class="fur" style="stroke:#888;stroke-width:0.6" />
<rect x="521.8" y="376.6" width="8.2" height="12" class="fur" style="stroke:#888;stroke-width:0.6" />
<circle cx="516.1" cy="386" r="0.6" class="fur" style="fill:#444;stroke:none" />
<circle cx="525.9" cy="386" r="0.6" class="fur" style="fill:#444;stroke:none" />
<rect x="545.8" y="397.2" width="15.4" height="15.6" class="fur" style="fill:#8a8a8a;stroke:#444;stroke-width:0.9" />
<line x1="548.5" y1="400.5" x2="560" y2="400.5" class="furn" style="stroke:#fff;stroke-width:0.8" />
<line x1="548.5" y1="405" x2="560" y2="405" class="furn" style="stroke:#fff;stroke-width:0.8" />
<line x1="548.5" y1="409.5" x2="560" y2="409.5" class="furn" style="stroke:#fff;stroke-width:0.8" />
<line x1="550.5" y1="398.5" x2="550.5" y2="411.5" class="furn" style="stroke:#fff;stroke-width:0.8" />
<line x1="554.5" y1="398.5" x2="554.5" y2="411.5" class="furn" style="stroke:#fff;stroke-width:0.8" />
<line x1="558.5" y1="398.5" x2="558.5" y2="411.5" class="furn" style="stroke:#fff;stroke-width:0.8" />
<line x1="547.3" y1="399" x2="547.3" y2="411" class="furn" style="stroke:#333;stroke-width:0.9" />
<line x1="546.5" y1="420" x2="561.5" y2="420" class="furn" />
<line x1="546.5" y1="436.2" x2="561.5" y2="436.2" class="furn" />
<rect x="511.3" y="411.2" width="10" height="4.8" class="fur" style="fill:#fff" />
<line x1="511.7" y1="412.3" x2="520.9" y2="412.3" class="furn" style="stroke:#999;stroke-width:1.6" />
<rect x="511.3" y="432.3" width="10" height="5" class="fur" style="fill:#fff" />
<line x1="511.7" y1="436.2" x2="520.9" y2="436.2" class="furn" style="stroke:#999;stroke-width:1.6" />
<rect x="503.5" y="419.3" width="5.2" height="10.1" class="fur" style="fill:#fff" />
<line x1="504.6" y1="419.7" x2="504.6" y2="429" class="furn" style="stroke:#999;stroke-width:1.6" />
<rect x="523.9" y="419.3" width="5.2" height="10.1" class="fur" style="fill:#fff" />
<line x1="528" y1="419.7" x2="528" y2="429" class="furn" style="stroke:#999;stroke-width:1.6" />
<rect x="508.7" y="416" width="15.2" height="16.3" class="fur" />
<path d="M514.6,424.2 L516.1,422.7 L517.6,424.2 L516.1,425.7 Z" fill="#555" stroke="#333" stroke-width="0.5"/>
<rect x="568.4" y="310.8" width="9.3" height="26.1" class="fur" style="stroke:#888;stroke-width:0.6" />
<rect x="571" y="315.8" width="9.4" height="15.2" rx="2.5" class="fur" style="stroke:#666"/>
<line x1="569.5" y1="322.8" x2="573.5" y2="322.8" class="furn" style="stroke:#444;stroke-width:0.9" />
<line x1="570.2" y1="321.5" x2="570.2" y2="324.5" class="furn" style="stroke:#444;stroke-width:0.9" />
<rect x="603.4" y="314.3" width="14" height="9" rx="2.5" class="fur" style="stroke:#777;stroke-width:0.9"/>
<rect x="605.2" y="315.8" width="9" height="6" rx="1.8" class="fur" style="stroke:#999;stroke-width:0.5"/>
<circle cx="612.2" cy="318.8" r="0.9" class="furn" style="stroke:#555;stroke-width:0.5" />
<rect x="596.4" y="372" width="18.8" height="18.8" class="fur" style="stroke:#666;stroke-width:0.9" />
<rect x="598" y="373.6" width="15.6" height="15.6" class="fur" style="stroke:#999;stroke-width:0.5" />
<line x1="598.5" y1="388.7" x2="613.2" y2="374.1" class="furn" style="stroke:#555" />
<rect x="608.3" y="394" width="7.8" height="31.2" class="fur" style="fill:none" />
<line x1="608.3" y1="401.8" x2="616.1" y2="401.8" class="furn" />
<line x1="608.3" y1="409.6" x2="616.1" y2="409.6" class="furn" />
<line x1="608.3" y1="417.4" x2="616.1" y2="417.4" class="furn" />
<rect x="568.7" y="412.9" width="15" height="15.2" class="fur" style="stroke:#888;stroke-width:0.6" />
<rect x="570.4" y="414.3" width="11.9" height="12.4" class="fur" style="stroke:#777;stroke-width:0.6" />
<line x1="569.8" y1="420.5" x2="572.5" y2="420.5" class="furn" style="stroke:#444;stroke-width:0.9" />
<rect x="568.7" y="428.1" width="15" height="16.2" class="fur" style="fill:none" />
<path d="M572.5,436.3 L576.5,435.5 L575.5,437.3 L580.5,436.5" fill="none" stroke="#444" stroke-width="0.7"/>
<rect x="623.2" y="377.5" width="15.2" height="66.8" class="fur" style="fill:none" />
<line x1="623.2" y1="391.8" x2="638.4" y2="391.8" class="furn" />
<line x1="623.2" y1="404.4" x2="638.4" y2="404.4" class="furn" />
<line x1="623.2" y1="417.8" x2="638.4" y2="417.8" class="furn" />
<line x1="623.2" y1="431" x2="638.4" y2="431" class="furn" />
<path d="M650.8,396 L650.8,432 M645,404 L657.5,404 M648.5,414.5 L653.5,418.5 M652.5,419 C653,423 649,423 649,421 M650.8,424 L650.8,431" fill="none" stroke="#777" stroke-width="0.8"/>
<g fill="none" stroke="#8a8a8a" stroke-width="0.7">
<path d="M673,331.3 L698,331.3 C703.5,331.3 705.8,336 705.8,342 L705.5,412 C705.5,421 701,426.8 692,426.8 L679,426.8 C670,426.8 665.5,421 665.5,412 L665.3,342 C665.3,336 667.5,331.3 673,331.3 Z"/>
<path d="M674,333.2 L697,333.2 C701.5,333.2 703.9,337 703.9,342.5 L703.6,411.5 C703.6,419.5 699.5,424.9 691.5,424.9 L679.5,424.9 C671.5,424.9 667.4,419.5 667.4,411.5 L667.2,342.5 C667.2,337 669.5,333.2 674,333.2 Z" stroke="#aaa" stroke-width="0.5"/>
<path d="M672.6,383 L672.6,361 C672.6,349 678,341.3 686,341.3 C694,341.3 699.8,349 699.8,361 L699.8,383"/>
<path d="M674.5,361 C674.5,351 679,344 686,344 C693,344 697.9,351 697.9,361"/>
<path d="M673.5,353.2 L684.5,353.2 L684.5,360 L673.5,360 Z M687.5,353.2 L698.5,353.2 L698.5,360 L687.5,360 Z"/>
<path d="M674.5,365 L683.5,365 L683.5,381 L674.5,381 Z M688.5,365 L697.5,365 L697.5,381 L688.5,381 Z"/>
<path d="M682,361 L690,361 M684.3,361 L684.3,382 M687.7,361 L687.7,382"/>
<path d="M668,383.7 L704,383.7 M668.5,390.3 L703.5,390.3"/>
<path d="M670,390.3 L671,398 C678,401.5 694,401.5 701,398 L702,390.3"/>
<path d="M684,392.5 L688,392.5 L688,397 L684,397 Z"/>
<path d="M672,400.3 L674,419 C680,420.5 692,420.5 698,419 L700,400.3"/>
<path d="M663,384 L667.3,384 M704,384 L708.3,384"/>
<circle cx="671" cy="343" r="1.5"/>
</g>
<g fill="none" stroke="#8a8a8a" stroke-width="0.7">
<path d="M733,322 L762,322 C766.5,322 768.9,325 768.9,330 L768.9,429 C768.9,434.5 766,437.2 761,437.2 L734,437.2 C729.5,437.2 726.8,434.5 726.8,429 L726.8,330 C726.8,325 729,322 733,322 Z"/>
<path d="M734,324.5 L761,324.5 C765,324.5 766.8,327 766.8,331 L766.8,428 C766.8,432.5 764.5,435 760.5,435 L735,435 C731,435 729,432.5 729,428 L729,331 C729,327 731,324.5 734,324.5 Z" stroke="#aaa" stroke-width="0.5"/>
<path d="M731.5,339 C740,335 756,335 764,339 L761,352.2 C754,350.5 742,350.5 734.5,352.2 Z"/>
<path d="M734.5,352.2 L733.5,388 M761,352.2 L762,388"/>
<path d="M733.5,388 C742,386.5 753,386.5 762,388 L764,398 C762,404.6 734,404.6 731.5,398 Z"/>
<path d="M738.7,404.2 L742.7,434 M755.4,404.2 L752.2,434"/>
<path d="M731.5,339 L729.5,327 M764,339 L766,327"/>
<path d="M729,360 L733.8,360 M762,360 L766.8,360 M729,373.6 L733.6,373.6 M762,373.6 L766.8,373.6"/>
<path d="M723.5,392 L729,392 M766.8,392 L772,392"/>
</g>
<text x="466" y="354.6" class="rl" textLength="26.5" lengthAdjust="spacingAndGlyphs" >Soggiorno</text>
<text x="466" y="360.8" class="rl" textLength="29" lengthAdjust="spacingAndGlyphs" >mq.&#160; 49,80</text>
<text x="347.8" y="452.5" class="rl" textLength="17.7" lengthAdjust="spacingAndGlyphs" >Loggia</text>
<text x="347.8" y="459" class="rl" textLength="26.6" lengthAdjust="spacingAndGlyphs" >mq.&#160; 4,20</text>
<text x="530.3" y="288.3" class="rl" textLength="27.8" lengthAdjust="spacingAndGlyphs" >Ripostiglio</text>
<text x="530.3" y="294.6" class="rl" textLength="26.6" lengthAdjust="spacingAndGlyphs" >mq.&#160; 4,80</text>
<text x="583.9" y="320.3" class="rl" textLength="16.4" lengthAdjust="spacingAndGlyphs" >Bagno</text>
<text x="583.9" y="327.2" class="rl" textLength="9.8" lengthAdjust="spacingAndGlyphs" >2,37</text>
<text x="551.9" y="353.5" class="rl" textLength="24.2" lengthAdjust="spacingAndGlyphs" >Corridoio</text>
<text x="551.9" y="360" class="rl" textLength="26.2" lengthAdjust="spacingAndGlyphs" >mq.&#160; 4,77</text>
<text x="573.4" y="399.6" class="rl" textLength="28.5" lengthAdjust="spacingAndGlyphs" >Lavanderia</text>
<text x="573.4" y="405.8" class="rl" textLength="25.4" lengthAdjust="spacingAndGlyphs" >mq.&#160; 5,41</text>
<text x="674.4" y="314.2" class="rl" textLength="19.4" lengthAdjust="spacingAndGlyphs" >Garage</text>
<text x="674.4" y="320.6" class="rl" textLength="30.1" lengthAdjust="spacingAndGlyphs" >mq.&#160; 34,55</text>
</g>
</svg>
</body></html>
